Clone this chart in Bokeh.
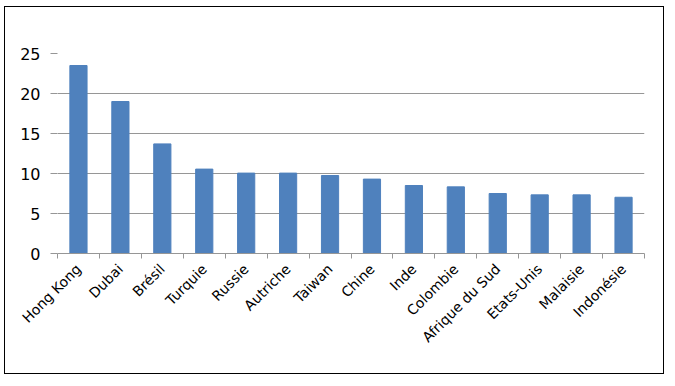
import math
from bokeh.plotting import figure
from bokeh.models import Range1d, FixedTicker
from bokeh.embed import file_html
from bokeh.resources import INLINE

countries = ["Hong Kong", "Dubai", "Brésil", "Turquie", "Russie", "Autriche", "Taiwan",
             "Chine", "Inde", "Colombie", "Afrique du Sud", "Etats-Unis", "Malaisie", "Indonésie"]
values = [23.5, 19.0, 13.7, 10.55, 10.05, 10.05, 9.75, 9.3, 8.5, 8.33, 7.5, 7.33, 7.33, 7.03]
y_ticks = [0, 5, 10, 15, 20, 25]

n = len(countries)
xs = [i + 0.5 for i in range(n)]

p = figure(width=660, height=368, output_backend="svg", toolbar_location=None,
           x_range=Range1d(0, n), y_range=Range1d(0, 25),
           min_border_left=52, min_border_right=21, min_border_top=46, min_border_bottom=122)
p.styles = {"margin-left": "4px", "margin-top": "6px", "border": "1px solid #000000"}
p.outline_line_color = None
p.background_fill_color = "white"
p.border_fill_color = "white"

p.vbar(x=xs, top=values, width=0.41, color="#4F81BD")

# grid
p.xgrid.grid_line_color = None
p.ygrid.grid_line_color = "#969696"
p.ygrid.grid_line_width = 1

# y axis
p.yaxis.ticker = FixedTicker(ticks=y_ticks)
p.yaxis.axis_line_color = None
p.yaxis.major_tick_line_color = "#969696"
p.yaxis.major_tick_out = 7
p.yaxis.major_tick_in = 0
p.yaxis.minor_tick_line_color = None
p.yaxis.major_label_standoff = 10
p.yaxis.major_label_text_font = "DejaVu Sans"
p.yaxis.major_label_text_font_size = "16px"
p.yaxis.major_label_text_color = "#000000"

# x axis
p.xaxis.ticker = FixedTicker(ticks=xs, minor_ticks=list(range(n + 1)))
p.xaxis.major_label_overrides = {x: c for x, c in zip(xs, countries)}
p.xaxis.axis_line_color = "#969696"
p.xaxis.major_tick_line_color = None
p.xaxis.major_tick_out = 0
p.xaxis.major_tick_in = 0
p.xaxis.minor_tick_line_color = "#969696"
p.xaxis.minor_tick_out = 5
p.xaxis.minor_tick_in = 0
p.xaxis.major_label_orientation = math.pi / 4
p.xaxis.major_label_standoff = 8
p.xaxis.major_label_text_font = "DejaVu Sans"
p.xaxis.major_label_text_font_size = "14px"
p.xaxis.major_label_text_color = "#000000"

open("out.html", "w").write(file_html(p, INLINE))
